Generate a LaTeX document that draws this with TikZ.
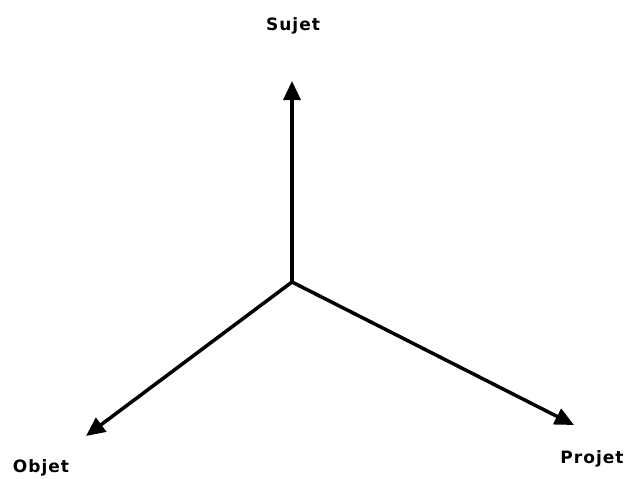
\documentclass[tikz,border=0pt]{standalone}
\usepackage{fontspec}
\setmainfont{DejaVu Sans}
\usetikzlibrary{arrows.meta}
\tikzset{
  axis/.style={line width=3.5pt,-{Triangle[length=19pt,width=17pt]}},
  lbl/.style={font=\bfseries\fontsize{17}{19}\selectfont\addfontfeature{LetterSpace=6}, inner sep=0pt}
}
\begin{document}
\begin{tikzpicture}[x=1pt,y=-1pt]
\useasboundingbox (0,0) rectangle (629,479);
\coordinate (o) at (292,282);
\coordinate (s) at (292,81);
\coordinate (ob) at (86,436);
\coordinate (p) at (574,425);
\draw[axis] (o) -- (s);
\draw[axis] (o) -- (ob);
\draw[axis] (o) -- (p);
\node[lbl] (sujet) at (293,26) {Sujet};
\node[lbl] (objet) at (41,468) {Objet};
\node[lbl] (projet) at (592,459) {Projet};
\end{tikzpicture}
\end{document}
